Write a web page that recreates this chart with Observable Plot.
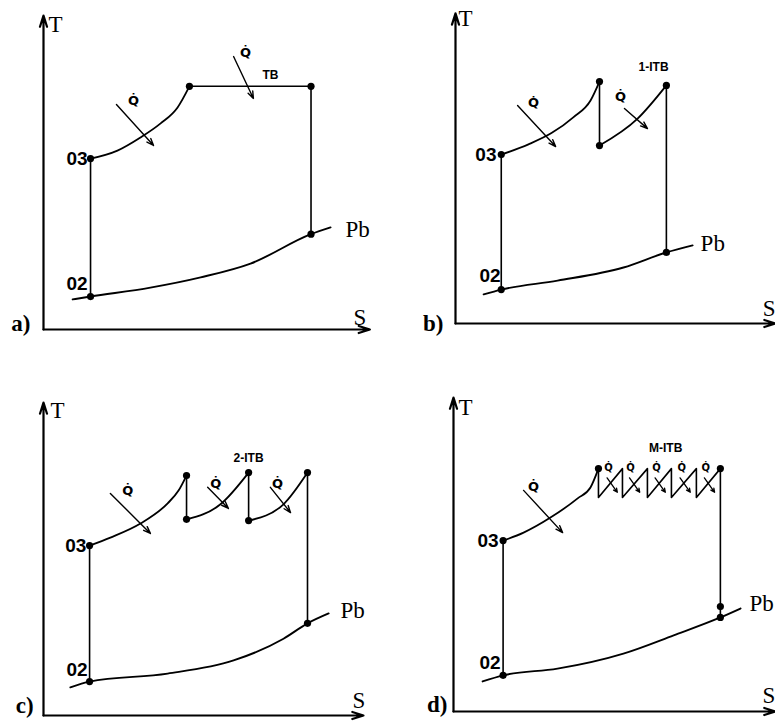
<!DOCTYPE html>
<html><head><meta charset="utf-8">
<script src="https://cdn.jsdelivr.net/npm/d3@7"></script>
<script src="https://cdn.jsdelivr.net/npm/@observablehq/plot@0.6"></script>
<style>
html,body{margin:0;padding:0;background:#fff;}
#wrap{position:relative;width:775px;height:721px;overflow:hidden;background:#fff;}
#wrap > svg{position:absolute;}
</style></head><body><div id="wrap"></div>
<script>
// ---- Panel a) : heat addition + constant-T burner (TB)
const aCurved = [[[1.47,5.34],[2.31,5.59],[3.03,6.0],[3.66,6.44],[4.19,6.94],[4.56,7.6]]];
const aStraight = [[[1.47,1.03],[1.47,5.34]], [[4.56,7.6],[8.36,7.6],[8.36,2.98]]];
const aPb = [[0.91,0.94],[1.47,1.03],[3.34,1.31],[4.91,1.63],[6.47,2.06],[8.36,2.98],[8.97,3.19]];
const aDots = [[1.47,5.34],[1.47,1.03],[4.56,7.6],[8.36,7.6],[8.36,2.98]];
const aArrows = [[2.28,7.03,3.44,5.75],[5.94,8.53,6.56,7.22]];
const aQ = [[2.81,7.16],[6.31,8.66]];
const aTags = [["TB",7.09,7.94]];
const aStates = [["03",1.38,5.34],["02",1.38,1.44]];

// ---- Panel b) : one inter-turbine burner
const bCurved = [[[1.43,5.28],[2.28,5.6],[3.0,5.95],[3.69,6.45],[4.22,6.97],[4.5,7.56]], [[4.5,5.56],[5.69,6.4],[6.59,7.44]]];
const bStraight = [[[1.43,1.06],[1.43,5.28]], [[4.5,7.56],[4.5,5.56]], [[6.59,7.44],[6.59,2.22]]];
const bPb = [[0.88,0.91],[1.43,1.06],[3.19,1.34],[5.25,1.75],[6.59,2.22],[7.41,2.44]];
const bDots = [[1.43,5.28],[1.43,1.06],[4.5,7.56],[4.5,5.56],[6.59,7.44],[6.59,2.22]];
const bArrows = [[1.94,6.81,3.13,5.53],[5.28,6.72,6.0,6.09]];
const bQ = [[2.44,6.9],[5.16,7.09]];
const bTags = [["1-ITB",6.19,8.0]];
const bStates = [["03",1.28,5.28],["02",1.41,1.5]];

// ---- Panel c) : two inter-turbine burners
const cCurved = [[[1.44,5.31],[2.09,5.56],[3.03,6.0],[3.88,6.63],[4.22,7.03],[4.47,7.5]], [[4.47,6.13],[5.53,6.6],[6.41,7.59]], [[6.41,6.09],[7.5,6.6],[8.25,7.59]]];
const cStraight = [[[1.44,1.06],[1.44,5.31]], [[4.47,7.5],[4.47,6.13]], [[6.41,7.59],[6.41,6.09]], [[8.25,7.59],[8.25,2.88]]];
const cPb = [[0.84,0.88],[1.44,1.06],[3.88,1.31],[5.94,1.72],[7.5,2.4],[8.25,2.88],[8.91,3.19]];
const cDots = [[1.44,5.31],[1.44,1.06],[4.47,7.5],[4.47,6.13],[6.41,7.59],[6.41,6.09],[8.25,7.59],[8.25,2.88]];
const cArrows = [[2.09,6.94,3.34,5.69],[5.13,7.13,5.78,6.47],[7.09,7.13,7.72,6.34]];
const cQ = [[2.63,7.03],[5.38,7.25],[7.31,7.25]];
const cTags = [["2-ITB",6.41,8.03]];
const cStates = [["03",1.34,5.31],["02",1.38,1.41]];

// ---- Panel d) : many inter-turbine burners
const dCurved = [[[1.55,5.34],[2.19,5.59],[3.03,6.06],[3.88,6.66],[4.28,7.0],[4.53,7.59]]];
const dStraight = [[[1.55,1.13],[1.55,5.34]], [[4.53,7.59],[4.53,6.69],[5.28,7.59],[5.28,6.69],[6.06,7.59],[6.06,6.69],[6.81,7.59],[6.81,6.69],[7.59,7.59],[7.59,6.69],[8.34,7.59],[8.34,2.94]]];
const dPb = [[0.91,0.94],[1.55,1.13],[3.25,1.34],[5.31,1.81],[6.88,2.38],[8.34,2.94],[8.97,3.22]];
const dDots = [[1.55,5.34],[1.55,1.13],[4.53,7.59],[8.34,7.59],[8.34,2.94],[8.34,3.28]];
const dArrows = [[2.19,6.91,3.41,5.59]];
const dSmallArrows = [[4.8,7.3,5.12,6.85],[5.5,7.3,5.82,6.85],[6.3,7.3,6.62,6.85],[7.08,7.3,7.4,6.85],[7.84,7.3,8.16,6.85]];
const dQ = [[2.5,7.03]];
const dSmallQ = [[4.84,7.63],[5.53,7.63],[6.34,7.63],[7.13,7.63],[7.88,7.63]];
const dTags = [["M-ITB",6.63,8.22]];
const dStates = [["03",1.41,5.34],["02",1.47,1.53]];

// ---- axis labels and extents per panel
const panelLetters = [["a)",-0.41,0.19],["b)",-0.38,0.0],["c)",-0.31,0.3],["d)",-0.19,0.2]];
const tLabels = [[0.16,9.53],[0.09,9.53],[0.22,9.53],[0.16,9.5]];
const sLabels = [[9.69,0.38],[9.6,0.47],[9.66,0.47],[9.66,0.5]];
const pbLabels = [[9.44,3.13],[7.66,2.5],[9.28,3.28],[9.25,3.38]];
const axisEnds = [[10.2,9.81],[10.0,9.69],[10.0,9.78],[10.06,9.81]];

const panels = [
  {curved:aCurved, straight:aStraight, pb:aPb, dots:aDots, arrows:aArrows, small:[], q:aQ, smallQ:[], tags:aTags, states:aStates, origin:[43,329]},
  {curved:bCurved, straight:bStraight, pb:bPb, dots:bDots, arrows:bArrows, small:[], q:bQ, smallQ:[], tags:bTags, states:bStates, origin:[455,323]},
  {curved:cCurved, straight:cStraight, pb:cPb, dots:cDots, arrows:cArrows, small:[], q:cQ, smallQ:[], tags:cTags, states:cStates, origin:[43,715]},
  {curved:dCurved, straight:dStraight, pb:dPb, dots:dDots, arrows:dArrows, small:dSmallArrows, q:dQ, smallQ:dSmallQ, tags:dTags, states:dStates, origin:[453,711]}
];

const ML = 45, MT = 12, MR = 20, MB = 14, SPAN = 320;
const flat = paths => paths.flatMap((path, i) => path.map(([s, t]) => ({s, t, k: i})));
const serif = "Liberation Serif, Times New Roman, serif";
const sans = "Liberation Sans, Arial, sans-serif";

const wrap = document.getElementById("wrap");
panels.forEach((p, i) => {
  const [sEnd, tEnd] = axisEnds[i];
  const svg = Plot.plot({
    width: ML + SPAN + MR, height: MT + SPAN + MB,
    marginLeft: ML, marginRight: MR, marginTop: MT, marginBottom: MB,
    x: {domain: [0, 10], axis: null},
    y: {domain: [0, 10], axis: null},
    style: {overflow: "visible", background: "transparent"},
    marks: [
      Plot.arrow([{x1: 0, y1: 0, x2: 0, y2: tEnd}, {x1: 0, y1: 0, x2: sEnd, y2: 0}],
        {x1: "x1", y1: "y1", x2: "x2", y2: "y2", stroke: "#000", strokeWidth: 2.2, headLength: 8, headAngle: 35}),
      Plot.line(flat(p.curved), {x: "s", y: "t", z: "k", curve: "monotone-x", stroke: "#000", strokeWidth: 1.8}),
      Plot.line(flat(p.straight), {x: "s", y: "t", z: "k", stroke: "#000", strokeWidth: 1.6}),
      Plot.line(p.pb, {x: d => d[0], y: d => d[1], curve: "monotone-x", stroke: "#000", strokeWidth: 1.9}),
      Plot.arrow(p.arrows, {x1: d => d[0], y1: d => d[1], x2: d => d[2], y2: d => d[3], stroke: "#000", strokeWidth: 1.4, headLength: 8, headAngle: 40}),
      Plot.arrow(p.small, {x1: d => d[0], y1: d => d[1], x2: d => d[2], y2: d => d[3], stroke: "#000", strokeWidth: 1.3, headLength: 5, headAngle: 50}),
      Plot.dot(p.dots, {x: d => d[0], y: d => d[1], r: 3.6, fill: "#000", stroke: null}),
      Plot.text(p.q, {x: d => d[0], y: d => d[1], text: () => "Q\u0307", fontFamily: "DejaVu Sans, sans-serif", fontSize: 13, fontWeight: "bold", fill: "#000"}),
      Plot.text(p.smallQ, {x: d => d[0], y: d => d[1], text: () => "Q\u0307", fontFamily: "DejaVu Sans, sans-serif", fontSize: 10, fontWeight: "bold", fill: "#000"}),
      Plot.text(p.tags, {x: d => d[1], y: d => d[2], text: d => d[0], fontFamily: sans, fontSize: 12, fontWeight: "bold", fill: "#000"}),
      Plot.text(p.states, {x: d => d[1], y: d => d[2], text: d => d[0], textAnchor: "end", fontFamily: sans, fontSize: 19, fontWeight: "bold", fill: "#000"}),
      Plot.text([tLabels[i]], {x: d => d[0], y: d => d[1], text: () => "T", textAnchor: "start", fontFamily: serif, fontSize: 23, fill: "#000"}),
      Plot.text([sLabels[i]], {x: d => d[0], y: d => d[1], text: () => "S", textAnchor: "start", fontFamily: serif, fontSize: 23, fill: "#000"}),
      Plot.text([pbLabels[i]], {x: d => d[0], y: d => d[1], text: () => "Pb", textAnchor: "start", fontFamily: serif, fontSize: 23, fill: "#000"}),
      Plot.text([panelLetters[i]], {x: d => d[1], y: d => d[2], text: d => d[0], textAnchor: "end", fontFamily: serif, fontSize: 23, fontWeight: "bold", fill: "#000"})
    ]
  });
  svg.style.left = (p.origin[0] - ML) + "px";
  svg.style.top = (p.origin[1] - SPAN - MT) + "px";
  wrap.appendChild(svg);
});
</script></body></html>
